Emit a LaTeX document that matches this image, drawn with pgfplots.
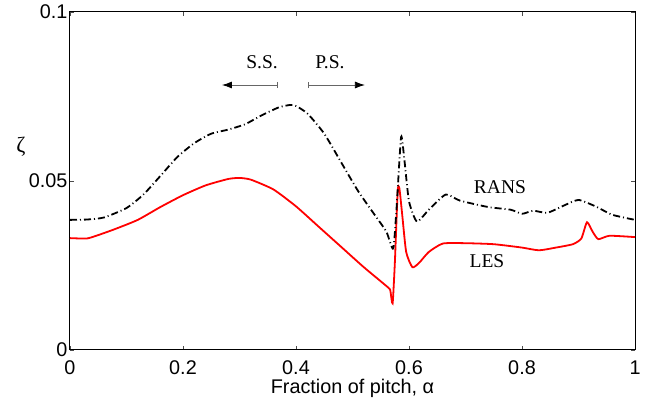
\documentclass[border=0pt]{standalone}
\usepackage{pgfplots}
\pgfplotsset{compat=1.18}
\usepackage{fontspec}
\setmainfont{Liberation Sans}
\newfontfamily\tms{Liberation Serif}
\usetikzlibrary{arrows.meta}

\pgfplotstableread{
x y
0     0.0331
0.03  0.0330
0.05  0.0340
0.08  0.0358
0.12  0.0385
0.16  0.0423
0.20  0.0458
0.24  0.0487
0.28  0.0506
0.30  0.0509
0.32  0.0504
0.36  0.0475
0.40  0.0425
0.44  0.0365
0.48  0.0305
0.52  0.0245
0.563 0.0185
0.567 0.0175
0.571 0.0138
0.575 0.0260
0.580 0.0470
0.583 0.0478
0.588 0.0400
0.595 0.0290
0.606 0.0245
0.618 0.0258
0.635 0.0290
0.66  0.0315
0.70  0.0316
0.75  0.0313
0.80  0.0303
0.83  0.0295
0.86  0.0303
0.89  0.0313
0.905 0.0330
0.915 0.0378
0.925 0.0350
0.935 0.0328
0.955 0.0338
1.0   0.0334
}\les

\pgfplotstableread{
x y
0     0.0385
0.03  0.0386
0.06  0.0392
0.10  0.0420
0.13  0.0460
0.16  0.0515
0.19  0.0571
0.22  0.0612
0.25  0.0640
0.28  0.0652
0.31  0.0668
0.34  0.0695
0.37  0.0718
0.395 0.0725
0.42  0.0700
0.45  0.0640
0.48  0.0555
0.51  0.0470
0.54  0.0398
0.56  0.0350
0.572 0.0300
0.578 0.0420
0.586 0.0630
0.592 0.0560
0.600 0.0440
0.614 0.0380
0.635 0.0415
0.665 0.0460
0.69  0.0442
0.74  0.0423
0.78  0.0415
0.80  0.0403
0.82  0.0412
0.845 0.0406
0.875 0.0428
0.90  0.0444
0.93  0.0425
0.96  0.0400
1.0   0.0385
}\rans

\begin{document}
\begin{tikzpicture}
\path[use as bounding box] (-70pt,-54pt) rectangle (575pt,350pt);
\begin{axis}[
    scale only axis,
    width=565pt, height=338pt,
    xmin=0, xmax=1, ymin=0, ymax=0.1,
    xtick={0,0.2,...,1}, ytick={0,0.05,0.1},
    xticklabels={0,0.2,0.4,0.6,0.8,1},
    yticklabels={0,0.05,0.1},
    tick align=inside,
    major tick length=4pt,
    tick style={line width=0.6pt, black!70},
    axis line style={line width=1pt},
    font=\fontsize{19.8}{21}\selectfont,
    /pgf/number format/assume math mode=true,
    xticklabel style={anchor=base, yshift=-24pt},
    yticklabel style={xshift=1pt},
    xlabel={Fraction of pitch, α},
    xlabel style={at={(axis description cs:0.5,0)}, anchor=base, yshift=-43pt},
    ylabel={\tms\fontsize{22}{24}\selectfont ζ},
    ylabel style={rotate=-90, at={(axis description cs:-0.087,0.60)}, anchor=center},
    clip=false,
]
\addplot[red, line width=1.8pt, smooth, tension=0.35] table {\les};
\addplot[black, line width=1.8pt, smooth, tension=0.35,
    dash pattern=on 7pt off 3pt on 1pt off 3pt] table {\rans};

\node[font=\tms\fontsize{19.5}{21}\selectfont] at (axis cs:0.34,0.0852) {S.S.};
\node[font=\tms\fontsize{19.5}{21}\selectfont] at (axis cs:0.46,0.0852) {P.S.};
\draw[black!60, line width=0.8pt, {Latex[black,length=10pt,width=7pt]}-|] (axis cs:0.269,0.0784) -- (axis cs:0.368,0.0784);
\draw[black!60, line width=0.8pt, |-{Latex[black,length=10pt,width=7pt]}] (axis cs:0.421,0.0784) -- (axis cs:0.522,0.0784);
\node[font=\tms\fontsize{19.5}{21}\selectfont] at (axis cs:0.761,0.0482) {RANS};
\node[font=\tms\fontsize{19.5}{21}\selectfont] at (axis cs:0.738,0.0262) {LES};
\end{axis}
\end{tikzpicture}
\end{document}
